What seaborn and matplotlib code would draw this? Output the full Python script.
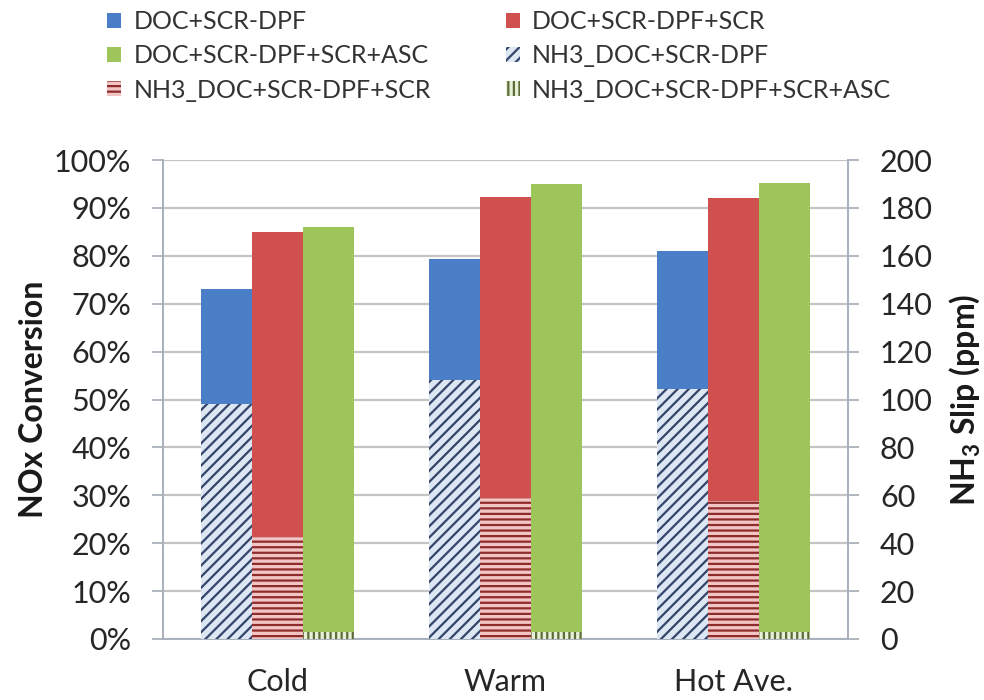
import matplotlib
matplotlib.use("Agg")
import matplotlib.pyplot as plt
import matplotlib.patches as mpatches
from matplotlib.ticker import FixedLocator, PercentFormatter
import pandas as pd
import seaborn as sns

# --- data ---------------------------------------------------------------
conditions = ["Cold", "Warm", "Hot Ave."]
configs = ["DOC+SCR-DPF", "DOC+SCR-DPF+SCR", "DOC+SCR-DPF+SCR+ASC"]
nh3_labels = ["NH3_DOC+SCR-DPF", "NH3_DOC+SCR-DPF+SCR", "NH3_DOC+SCR-DPF+SCR+ASC"]

# NOx conversion (%)
nox_doc_scrdpf = [73.0, 79.3, 81.0]
nox_scr = [85.0, 92.2, 92.0]
nox_asc = [86.0, 95.0, 95.3]

# NH3 slip (ppm)
nh3_doc_scrdpf = [98.0, 108.0, 104.5]
nh3_scr = [42.5, 59.0, 57.5]
nh3_asc = [3.0, 3.0, 3.0]

bar_colors = ["#4a7ec6", "#d0504f", "#9dc55a"]
hatch_faces = ["#dce7f3", "#f3c4c4", "#e6f0d6"]
hatch_lines = ["#33456a", "#8e2b2b", "#5d6b3a"]
hatch_styles = ["///", "---", "|||"]

# --- style ----------------------------------------------------------------
sns.set_theme(style="white")
plt.rcParams["font.family"] = ["Lato", "DejaVu Sans"]
plt.rcParams["mathtext.fontset"] = "custom"
plt.rcParams["mathtext.rm"] = "Lato"
plt.rcParams["mathtext.bf"] = "Lato:bold"
plt.rcParams["hatch.linewidth"] = 1.6

conv = pd.DataFrame({
    "condition": conditions * 3,
    "config": [c for c in configs for _ in conditions],
    "value": nox_doc_scrdpf + nox_scr + nox_asc,
})
slip = pd.DataFrame({
    "condition": conditions * 3,
    "config": [c for c in nh3_labels for _ in conditions],
    "value": nh3_doc_scrdpf + nh3_scr + nh3_asc,
})

fig = plt.figure(figsize=(9.84, 7.0), dpi=100)
ax = fig.add_axes([163 / 984, 61 / 700, 685 / 984, 479 / 700])

grid_c = "#c4c4c4"
axis_c = "#a9b1bc"
text_c = "#262626"

sns.barplot(data=conv, x="condition", y="value", hue="config",
            palette=bar_colors, saturation=1, width=0.67, gap=0,
            legend=False, ax=ax, zorder=2)
for cont in ax.containers:
    for p in cont:
        p.set_linewidth(0)

ax2 = ax.twinx()
sns.barplot(data=slip, x="condition", y="value", hue="config",
            palette=hatch_faces, saturation=1, width=0.67, gap=0,
            legend=False, ax=ax2, zorder=3)
for cont, face, line, h in zip(ax2.containers, hatch_faces, hatch_lines, hatch_styles):
    for p in cont:
        p.set_facecolor(face)
        p.set_edgecolor(line)
        p.set_hatch(h)
        p.set_linewidth(0)

# --- axes -----------------------------------------------------------------
ax.set_ylim(0, 100)
ax2.set_ylim(0, 200)
ax.set_xlim(-0.5, 2.5)

ax.yaxis.set_major_locator(FixedLocator(range(0, 101, 10)))
ax.yaxis.set_major_formatter(PercentFormatter(decimals=0))
ax2.yaxis.set_major_locator(FixedLocator(range(0, 201, 20)))

ax.grid(axis="y", color=grid_c, linewidth=1.6, zorder=0)
ax.set_axisbelow(True)

ax.set_xticks([0, 1, 2])
ax.set_xticklabels(conditions)
ax.set_xticks([-0.5, 0.5, 1.5, 2.5], minor=True)
ax.tick_params(axis="x", which="major", length=0, pad=21, labelsize=22,
               labelcolor=text_c)
ax.tick_params(axis="x", which="minor", length=8, width=1.3, color=axis_c)
ax.tick_params(axis="y", length=8, width=1.3, color=axis_c, labelsize=22,
               labelcolor=text_c, pad=15)
ax2.tick_params(axis="y", length=8, width=1.3, color=axis_c, labelsize=22,
                labelcolor=text_c, pad=15)

for a in (ax, ax2):
    a.spines["top"].set_visible(False)
    for s in ("left", "right", "bottom"):
        a.spines[s].set_color(axis_c)
        a.spines[s].set_linewidth(1.3)
ax2.set_xlabel("")
ax.set_xlabel("")

ax.set_ylabel("NOx Conversion", fontsize=23, fontweight="bold",
              color="#1a1a1a", labelpad=4)
ax2.set_ylabel(r"NH$_\mathbf{3}$ Slip (ppm)", fontsize=23, fontweight="bold",
               color="#1a1a1a", labelpad=10)

# --- legend ---------------------------------------------------------------
handles = [mpatches.Patch(facecolor=c, linewidth=0) for c in bar_colors]
handles += [mpatches.Patch(facecolor=f, edgecolor=l, hatch=h, linewidth=0)
            for f, l, h in zip(hatch_faces, hatch_lines, hatch_styles)]
labels = configs + nh3_labels
order = [0, 2, 4, 1, 3, 5]
fig.legend([handles[i] for i in order], [labels[i] for i in order],
           ncol=2, loc="upper left", bbox_to_anchor=(107 / 984, 1 - 10 / 700),
           borderpad=0, borderaxespad=0,
           frameon=False, fontsize=18, handlelength=0.55, handleheight=0.55,
           handletextpad=0.5, labelspacing=0.45, columnspacing=3.0,
           labelcolor="#333333")

fig.savefig("out.png", dpi=100)
